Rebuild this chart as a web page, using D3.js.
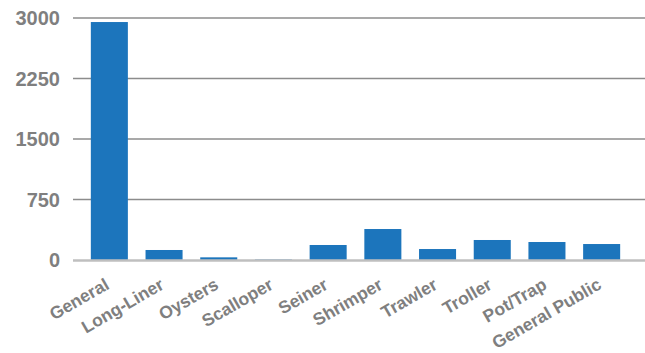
<!DOCTYPE html>
<html><head><meta charset="utf-8">
<script src="https://cdn.jsdelivr.net/npm/d3@7"></script>
<style>body{margin:0;background:#fff}</style>
</head><body>
<svg id="c" width="645" height="353"></svg>
<script>
const categories = ["General","Long-Liner","Oysters","Scalloper","Seiner","Shrimper","Trawler","Troller","Pot/Trap","General Public"];
const values = [2950,124,33,6,186,384,136,248,223,198];
const yTicks = [0,750,1500,2250,3000];

const svg = d3.select("#c");
const x = d3.scaleBand().domain(categories).range([82,629]).paddingInner(0.323).paddingOuter(0.1615);
const y = d3.scaleLinear().domain([0,3000]).range([260,18]);

svg.append("g").selectAll("line").data(yTicks.filter(d=>d>0)).join("line")
  .attr("x1",73).attr("x2",645).attr("y1",d=>y(d)).attr("y2",d=>y(d))
  .attr("stroke","#8c8c8c").attr("stroke-width",1.5);

svg.append("g").selectAll("rect").data(values).join("rect")
  .attr("x",(d,i)=>x(categories[i])).attr("width",x.bandwidth())
  .attr("y",d=>y(d)).attr("height",d=>y(0)-y(d)).attr("fill","#1c75bc");

svg.append("line").attr("x1",73).attr("x2",645).attr("y1",y(0)+0.5).attr("y2",y(0)+0.5)
  .attr("stroke","#bfbfbf").attr("stroke-width",2.5);

svg.append("g").selectAll("text").data(yTicks).join("text")
  .attr("x",60).attr("y",d=>y(d)).attr("dy","0.36em").attr("text-anchor","end")
  .attr("font-family","Liberation Sans, Arial, sans-serif").attr("font-weight","bold")
  .attr("font-size",20).attr("fill","#7f7f7f").text(d=>d);

svg.append("g").selectAll("text").data(categories).join("text")
  .attr("transform",d=>`translate(${x(d)+x.bandwidth()/2+1},288) rotate(-30)`)
  .attr("text-anchor","end")
  .attr("font-family","Liberation Sans, Arial, sans-serif").attr("font-weight","bold")
  .attr("font-size",17.5).attr("fill","#7f7f7f").text(d=>d);
</script>
</body></html>
